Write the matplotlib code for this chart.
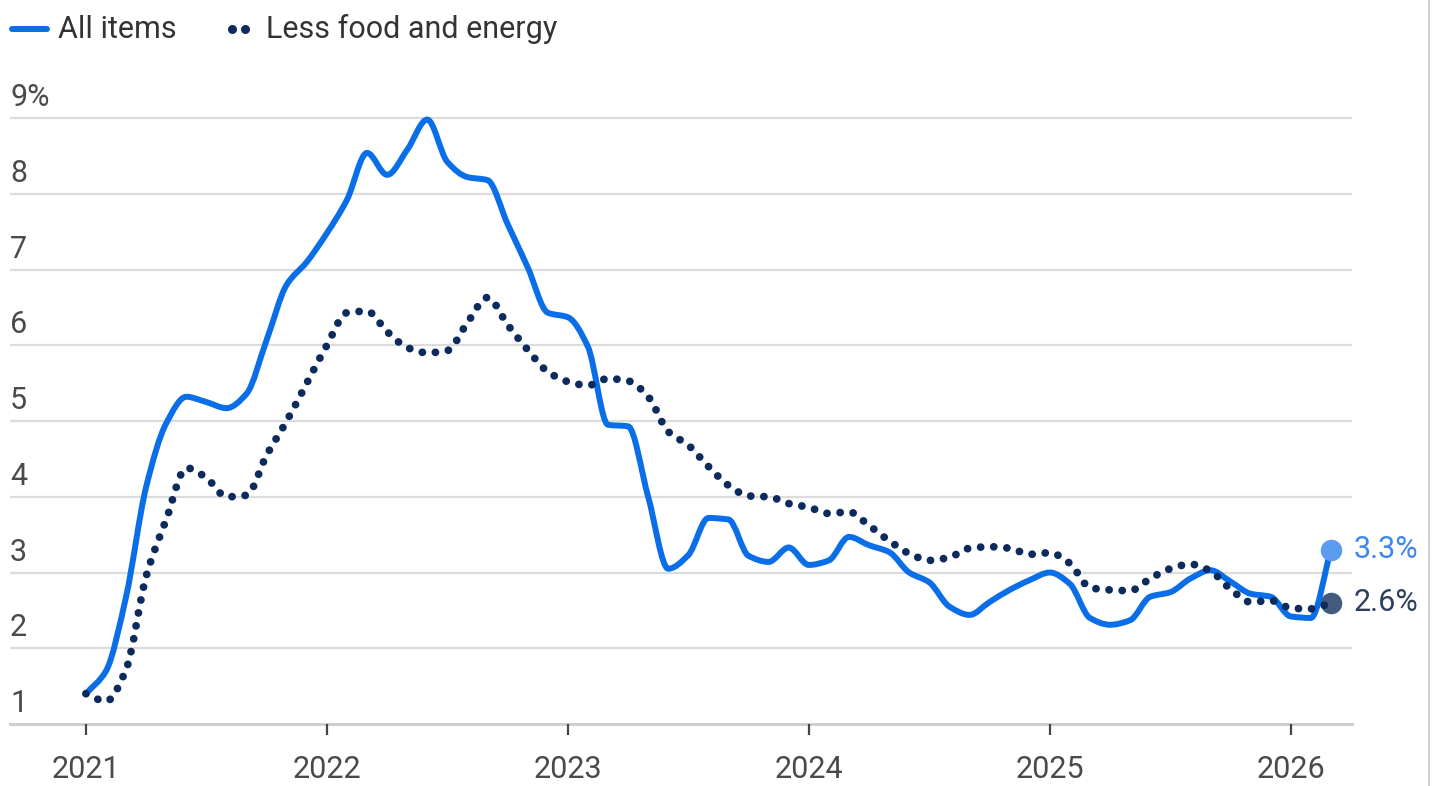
import matplotlib
matplotlib.use("Agg")
import matplotlib.pyplot as plt
from matplotlib.lines import Line2D
from matplotlib.path import Path
from matplotlib.patches import PathPatch
import numpy as np

plt.rcParams['font.family'] = ['Roboto', 'DejaVu Sans']

# ---- data (monthly, Jan 2021 .. Mar 2026) ----
all_items = [
    1.40, 1.70, 2.68, 4.13, 4.97, 5.32, 5.25, 5.17, 5.36, 6.07, 6.80, 7.10,
    7.48, 7.92, 8.54, 8.25, 8.58, 8.98, 8.42, 8.22, 8.18, 7.60, 7.03, 6.43,
    6.37, 5.98, 4.95, 4.93, 4.00, 3.05, 3.23, 3.72, 3.70, 3.22, 3.14, 3.33,
    3.10, 3.16, 3.47, 3.36, 3.27, 3.00, 2.87, 2.55, 2.44, 2.61, 2.77, 2.90,
    3.00, 2.85, 2.40, 2.31, 2.37, 2.68, 2.74, 2.92, 3.03, 2.88, 2.72, 2.68,
    2.42, 2.40, 3.30,
]
core = [
    1.40, 1.30, 1.72, 2.95, 3.70, 4.38, 4.25, 4.00, 4.02, 4.55, 5.00, 5.50,
    6.00, 6.43, 6.45, 6.18, 5.97, 5.90, 5.93, 6.30, 6.63, 6.27, 5.94, 5.65,
    5.52, 5.47, 5.56, 5.53, 5.32, 4.86, 4.68, 4.40, 4.15, 4.01, 4.00, 3.91,
    3.86, 3.78, 3.80, 3.62, 3.42, 3.25, 3.16, 3.20, 3.32, 3.34, 3.32, 3.24,
    3.26, 3.12, 2.80, 2.77, 2.76, 2.92, 3.05, 3.11, 3.02, 2.78, 2.61, 2.63,
    2.53, 2.52, 2.60,
]
year_labels = ['2021', '2022', '2023', '2024', '2025', '2026']
y_values = [1, 2, 3, 4, 5, 6, 7, 8, 9]
y_labels = ['1', '2', '3', '4', '5', '6', '7', '8', '9%']
series_names = ['All items', 'Less food and energy']
end_labels = ['3.3%', '2.6%']

BLUE = '#0a6ee8'
NAVY = '#0d2a5c'
BLUE_END = '#5c9cf0'
NAVY_END = '#435a7e'
TXT = '#4a4a4a'

months = np.arange(len(all_items))


def monotone_path(x, y):
    """Monotone cubic (Fritsch-Carlson) Bezier path through the data points."""
    x = np.asarray(x, float)
    y = np.asarray(y, float)
    n = len(x)
    h = np.diff(x)
    d = np.diff(y) / h
    m = np.zeros(n)
    m[0], m[-1] = d[0], d[-1]
    for i in range(1, n - 1):
        if d[i - 1] * d[i] <= 0:
            m[i] = 0.0
        else:
            w1 = 2 * h[i] + h[i - 1]
            w2 = h[i] + 2 * h[i - 1]
            m[i] = (w1 + w2) / (w1 / d[i - 1] + w2 / d[i])
    verts = [(x[0], y[0])]
    codes = [Path.MOVETO]
    for i in range(n - 1):
        dx = h[i] / 3
        verts += [(x[i] + dx, y[i] + m[i] * dx),
                  (x[i + 1] - dx, y[i + 1] - m[i + 1] * dx),
                  (x[i + 1], y[i + 1])]
        codes += [Path.CURVE4] * 3
    return Path(verts, codes)


W, H = 1435, 786
fig = plt.figure(figsize=(W / 100, H / 100), dpi=100)
ax = fig.add_axes([10 / W, (H - 724) / H, (1352 - 10) / W, (724 - 95.3) / H])

ax.set_xlim(-3.78, 63.05)
ax.set_ylim(1, 9.3)

# grid
for v in y_values[1:]:
    ax.axhline(v, color='#dcdcdc', lw=1.6, zorder=0)

ax.add_patch(PathPatch(monotone_path(months, all_items), fill=False,
                       edgecolor=BLUE, lw=4.3, joinstyle='round',
                       capstyle='round', zorder=3))
ax.add_patch(PathPatch(monotone_path(months, core), fill=False,
                       edgecolor=NAVY, lw=5.6, linestyle=(0, (0.01, 1.68)),
                       capstyle='round', zorder=4))

ax.plot(months[-1], core[-1], 'o', ms=14.5, color=NAVY_END, zorder=2.5)
ax.plot(months[-1], all_items[-1], 'o', ms=14.5, color=BLUE_END, zorder=5)

ax.annotate(end_labels[0], (months[-1], all_items[-1]), xytext=(16, 0),
            textcoords='offset points', va='center', ha='left',
            fontsize=22, color='#3d86ee')
ax.annotate(end_labels[1], (months[-1], core[-1]), xytext=(16, 0),
            textcoords='offset points', va='center', ha='left',
            fontsize=22, color='#2e3f5e')

# axes styling
for s in ['top', 'right', 'left']:
    ax.spines[s].set_visible(False)
ax.spines['bottom'].set_color('#cfcfcf')
ax.spines['bottom'].set_linewidth(2.2)
ax.spines['bottom'].set_zorder(1)

ax.set_xticks(np.arange(0, 61, 12))
ax.set_xticklabels(year_labels)
ax.tick_params(axis='x', length=8, width=1.6, color='#444444', pad=14,
               labelsize=22, labelcolor=TXT)
ax.set_yticks([])

for v, lab in zip(y_values, y_labels):
    ax.annotate(lab, (0, v), xycoords=('axes fraction', 'data'),
                xytext=(0, 8.6), textcoords='offset points',
                ha='left', va='baseline', fontsize=22, color=TXT)

# legend (manual)
ly = 1 - 29 / H
fig.add_artist(Line2D([12 / W, 47 / W], [ly, ly], color=BLUE, lw=4.3,
                      solid_capstyle='round'))
fig.text(58 / W, ly, series_names[0], ha='left', va='center',
         fontsize=22, color='#333333')
fig.add_artist(Line2D([232 / W, 245 / W], [ly, ly], color=NAVY, lw=0,
                      marker='o', ms=6.5, markeredgewidth=0))
fig.text(266 / W, ly, series_names[1], ha='left', va='center',
         fontsize=22, color='#333333')

# right border line
fig.add_artist(Line2D([1429 / W, 1429 / W], [0, 1], color='#c8c8c8', lw=1.2))

fig.savefig('out.png', dpi=100, facecolor='white')
